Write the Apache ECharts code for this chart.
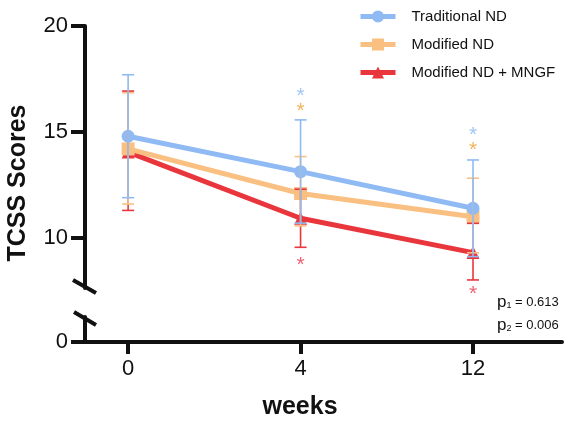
<!DOCTYPE html>
<html>
<head>
<meta charset="utf-8">
<script src="https://cdn.jsdelivr.net/npm/echarts@6/dist/echarts.min.js"></script>
<style>
  html, body { margin: 0; padding: 0; background: #fff; }
  #chart { width: 567px; height: 427px; }
</style>
</head>
<body>
<div id="chart"></div>
<script>
const weeks = ["0", "4", "12"];
const seriesNames = ["Traditional ND", "Modified ND", "Modified ND + MNGF"];

// mean and SD bar ends, one value per week
const traditionalMean = [14.8, 13.13, 11.4];
const traditionalLow = [11.9, 10.7, 9.12];
const traditionalHigh = [17.7, 15.57, 13.68];
const modifiedMean = [14.2, 12.1, 11.0];
const modifiedLow = [11.6, 10.57, 9.3];
const modifiedHigh = [16.85, 13.84, 12.82];
const mngfMean = [14.05, 10.93, 9.31];
const mngfLow = [11.3, 9.56, 8.02];
const mngfHigh = [16.93, 12.3, 10.69];

// significance asterisks: [week index, score]
const traditionalStars = [[1, 16.84], [2, 14.97]];
const modifiedStars = [[1, 16.13], [2, 14.28]];
const mngfStars = [[1, 8.87], [2, 7.47]];

const yTicks = [10, 15, 20];
const yBottomTicks = [0];
const pValues = ["0.613", "0.006"];

const FONT = "'Liberation Sans', Arial, sans-serif";
const INK = "#111111";
const BLUE = "#8fbaf3";
const ORANGE = "#f9c082";
const RED = "#e8363c";
const STAR_BLUE = "#8ab6f2";
const STAR_ORANGE = "#efa035";
const STAR_RED = "#e83a4c";

const X_MIN = -0.25;
const X_MAX = 2.516;

const axisLineStyle = { color: INK, width: 4 };

function meanLine(name, values, color, symbol, z) {
  return {
    type: "line",
    name,
    xAxisIndex: 0,
    yAxisIndex: 0,
    z,
    data: values.map((v, i) => [i, v]),
    symbol,
    symbolSize: 13,
    lineStyle: { color, width: 5 },
    itemStyle: { color },
    animation: false,
  };
}

function errorBars(name, low, high, color, z) {
  return {
    type: "custom",
    name: name + " SD",
    xAxisIndex: 0,
    yAxisIndex: 0,
    z,
    silent: true,
    animation: false,
    data: low.map((l, i) => [i, l, high[i]]),
    encode: { x: 0, y: [1, 2] },
    renderItem: (params, api) => {
      const lo = api.coord([api.value(0), api.value(1)]);
      const hi = api.coord([api.value(0), api.value(2)]);
      const w = 6;
      const style = { stroke: color, lineWidth: 1.6 };
      return {
        type: "group",
        children: [
          { type: "line", shape: { x1: hi[0], y1: hi[1], x2: lo[0], y2: lo[1] }, style },
          { type: "line", shape: { x1: hi[0] - w, y1: hi[1], x2: hi[0] + w, y2: hi[1] }, style },
          { type: "line", shape: { x1: lo[0] - w, y1: lo[1], x2: lo[0] + w, y2: lo[1] }, style },
        ],
      };
    },
  };
}

function stars(name, data, color) {
  return {
    type: "scatter",
    name,
    xAxisIndex: 0,
    yAxisIndex: 0,
    z: 10,
    clip: false,
    silent: true,
    animation: false,
    data,
    symbolSize: 1,
    itemStyle: { color: "transparent" },
    label: {
      show: true,
      position: "inside",
      formatter: "*",
      color,
      fontSize: 21,
      fontFamily: FONT,
      offset: [0, 3],
    },
  };
}

const chart = echarts.init(document.getElementById("chart"), null, { renderer: "canvas" });

chart.setOption({
  backgroundColor: "#ffffff",
  animation: false,
  textStyle: { fontFamily: FONT },
  grid: [
    { left: 85, right: 5, top: 26, bottom: 139 },
    { left: 85, right: 5, top: 317, bottom: 85 },
  ],
  legend: {
    data: seriesNames,
    orient: "vertical",
    left: 358,
    top: 9,
    padding: 0,
    itemWidth: 35,
    itemHeight: 15,
    itemGap: 13,
    lineStyle: { width: 5 },
    textStyle: { fontSize: 15, color: INK, fontFamily: FONT, padding: [0, 0, 0, 11] },
  },
  xAxis: [
    { gridIndex: 0, type: "value", min: X_MIN, max: X_MAX, show: false },
    {
      gridIndex: 1,
      type: "value",
      min: X_MIN,
      max: X_MAX,
      axisLine: { show: true, onZero: false, lineStyle: axisLineStyle },
      axisTick: { show: true, customValues: [0, 1, 2], length: 12, lineStyle: axisLineStyle },
      axisLabel: {
        customValues: [0, 1, 2],
        formatter: (v) => weeks[Math.round(v)],
        fontSize: 22,
        color: INK,
        margin: 16,
        fontFamily: FONT,
      },
      splitLine: { show: false },
    },
  ],
  yAxis: [
    {
      gridIndex: 0,
      type: "value",
      min: 7.64,
      max: 20,
      axisLine: { show: true, onZero: false, lineStyle: axisLineStyle },
      axisTick: { show: true, customValues: yTicks, length: 14, lineStyle: axisLineStyle },
      axisLabel: { customValues: yTicks, fontSize: 22, color: INK, margin: 17, fontFamily: FONT },
      splitLine: { show: false },
    },
    {
      gridIndex: 1,
      type: "value",
      min: 0,
      max: 1.2,
      axisLine: { show: true, onZero: false, lineStyle: axisLineStyle },
      axisTick: { show: true, customValues: yBottomTicks, length: 14, lineStyle: axisLineStyle },
      axisLabel: { customValues: yBottomTicks, fontSize: 22, color: INK, margin: 17, fontFamily: FONT },
      splitLine: { show: false },
    },
  ],
  graphic: [
    {
      type: "text",
      x: 18,
      y: 183,
      rotation: Math.PI / 2,
      style: {
        text: "TCSS Scores",
        fontSize: 25,
        fontWeight: "bold",
        fontFamily: FONT,
        fill: INK,
        align: "center",
        verticalAlign: "middle",
      },
    },
    {
      type: "text",
      x: 300,
      y: 407,
      style: {
        text: "weeks",
        fontSize: 25,
        fontWeight: "bold",
        fontFamily: FONT,
        fill: INK,
        align: "center",
        verticalAlign: "middle",
      },
    },
    // axis break marks
    { type: "line", shape: { x1: 73, y1: 280, x2: 96, y2: 293 }, style: { stroke: INK, lineWidth: 4 } },
    { type: "line", shape: { x1: 74, y1: 312, x2: 96, y2: 325 }, style: { stroke: INK, lineWidth: 4 } },
    ...pValues.map((p, i) => ({
      type: "text",
      x: 497,
      y: 302 + i * 23,
      style: {
        text: "{p|p}{s|" + (i + 1) + "}{t| = " + p + "}",
        fontFamily: FONT,
        fill: INK,
        verticalAlign: "middle",
        rich: {
          p: { fontSize: 17, fontFamily: FONT, fill: INK },
          s: { fontSize: 9, fontFamily: FONT, fill: INK, verticalAlign: "bottom", padding: [5, 0, 0, 0] },
          t: { fontSize: 13, fontFamily: FONT, fill: INK },
        },
      },
    })),
  ],
  series: [
    meanLine(seriesNames[2], mngfMean, RED, "triangle", 3),
    meanLine(seriesNames[1], modifiedMean, ORANGE, "rect", 4),
    meanLine(seriesNames[0], traditionalMean, BLUE, "circle", 5),
    errorBars(seriesNames[2], mngfLow, mngfHigh, RED, 6),
    errorBars(seriesNames[1], modifiedLow, modifiedHigh, ORANGE, 7),
    errorBars(seriesNames[0], traditionalLow, traditionalHigh, BLUE, 8),
    stars("stars-traditional", traditionalStars, STAR_BLUE),
    stars("stars-modified", modifiedStars, STAR_ORANGE),
    stars("stars-mngf", mngfStars, STAR_RED),
  ],
});
</script>
</body>
</html>
